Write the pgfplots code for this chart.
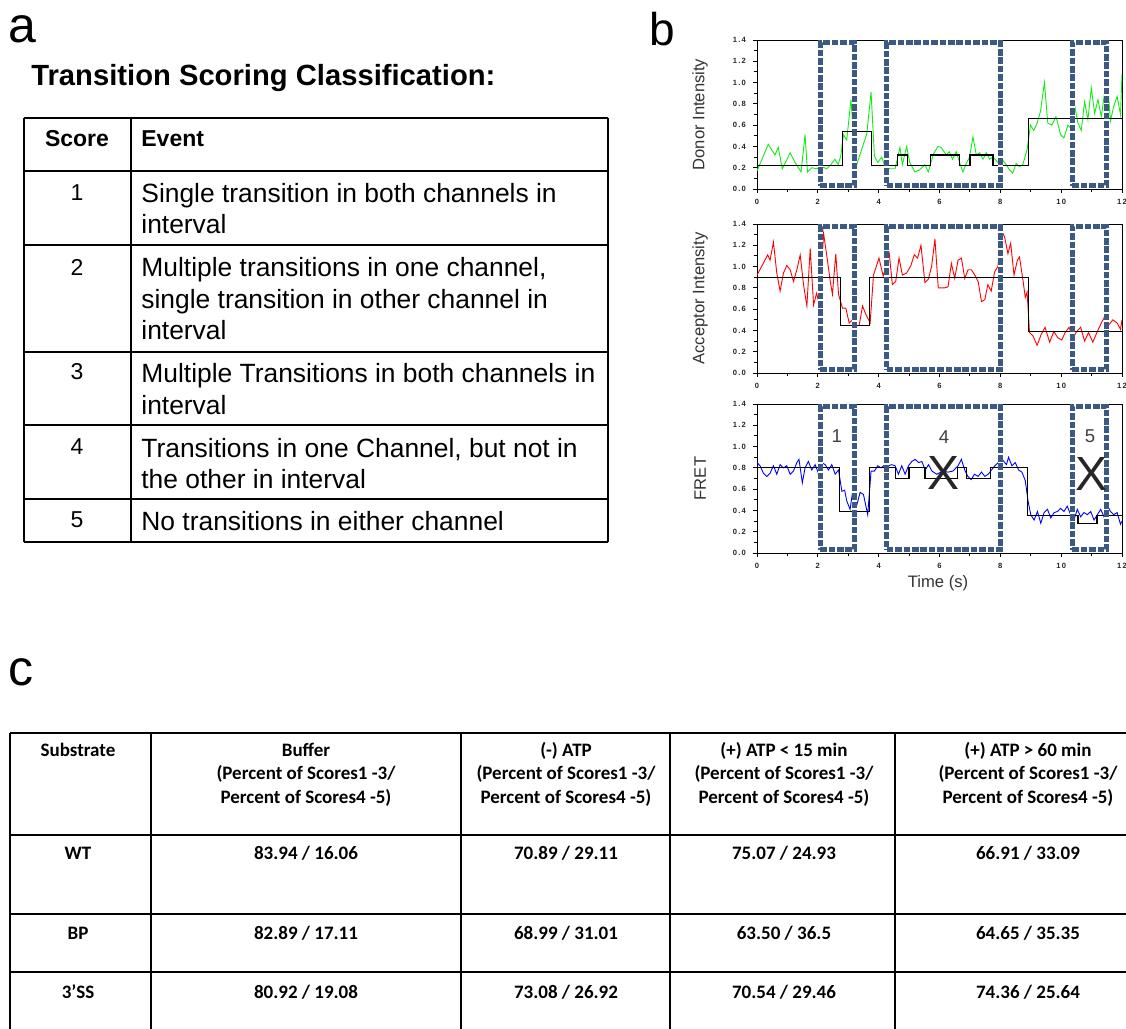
\documentclass[border=0pt]{standalone}
\usepackage{fontspec}
\setmainfont{Liberation Sans}
\newfontfamily\calfont{Carlito}
\usepackage{pgfplots}
\pgfplotsset{compat=1.18}
\definecolor{boxc}{RGB}{59,89,130}
\definecolor{tgreen}{RGB}{20,235,20}
\pgfplotsset{
  tr/.style={scale only axis, width=182.5pt, height=74.5pt, anchor=south west,
    xmin=0,xmax=12,ymin=0,ymax=1.4,
    xtick={0,2,4,6,8,10,12}, ytick={0,0.2,0.4,0.6,0.8,1.0,1.2,1.4},
    xticklabels={0,2,4,6,8,1\,0,1\,2},
    yticklabels={0\,.\,0,0\,.\,2,0\,.\,4,0\,.\,6,0\,.\,8,1\,.\,0,1\,.\,2,1\,.\,4},
    minor x tick num=1, minor y tick num=1,
    tick align=outside, xtick pos=bottom, ytick pos=left,
    major tick length=2pt, minor tick length=1.3pt,
    tick style={black, line width=0.5pt},
    axis line style={line width=0.5pt},
    ticklabel style={font=\fontsize{3.8}{4}\selectfont\bfseries, text=black!85},
    xticklabel style={yshift=0.5pt},
    label style={font=\fontsize{8.3}{9}\selectfont, text=black!80},
    ylabel style={at={(axis description cs:-0.156,0.5)}, anchor=center},
    xlabel style={at={(axis description cs:0.496,-0.203)}, anchor=center},
  },
  boxw/.style={white, line width=2.5pt, forget plot},
  boxd/.style={boxc, line width=2.5pt, dash pattern=on 3.3pt off 0.9pt, forget plot},
  tl/.style={line width=0.45pt},
  st/.style={black, line width=0.6pt, const plot},
}
\newcommand\boxes{%
  \addplot[boxw] coordinates {(2.08,0.03)(3.2,0.03)(3.2,1.375)(2.08,1.375)(2.08,0.03)};
  \addplot[boxd] coordinates {(2.08,0.03)(3.2,0.03)(3.2,1.375)(2.08,1.375)(2.08,0.03)};
  \addplot[boxw] coordinates {(4.27,0.03)(8.0,0.03)(8.0,1.375)(4.27,1.375)(4.27,0.03)};
  \addplot[boxd] coordinates {(4.27,0.03)(8.0,0.03)(8.0,1.375)(4.27,1.375)(4.27,0.03)};
  \addplot[boxw] coordinates {(10.37,0.03)(11.5,0.03)(11.5,1.375)(10.37,1.375)(10.37,0.03)};
  \addplot[boxd] coordinates {(10.37,0.03)(11.5,0.03)(11.5,1.375)(10.37,1.375)(10.37,0.03)};
}
\begin{document}
\begin{tikzpicture}
\path[use as bounding box] (0,0) rectangle (563pt,-514.5pt);
\begin{scope}[x=0.5pt,y=-0.5pt]
% ---------- panel a ----------
\node[anchor=base west, inner sep=0, font=\fontsize{25}{30}\selectfont] at (8,42) {a};
\node[anchor=base west, inner sep=0, font=\fontsize{14.6}{17}\selectfont\bfseries] at (31,85.5) {Transition Scoring Classification:};
\foreach \yy in {118,171,245,352,425,499,542} \draw[line width=1pt] (24,\yy) -- (608,\yy);
\foreach \xx in {24,131,608} \draw[line width=1pt] (\xx,118) -- (\xx,542);
\begin{scope}[every node/.style={anchor=base west, inner sep=0, font=\fontsize{13.2}{15}\selectfont}]
\node[font=\fontsize{11.5}{13}\selectfont\bfseries, anchor=base] at (77,146.8) {Score};
\node[font=\fontsize{11.5}{13}\selectfont\bfseries] at (141,146.8) {Event};
\node[font=\fontsize{11.5}{13}\selectfont, anchor=base] at (77,200.5) {1};
\node[font=\fontsize{11.5}{13}\selectfont, anchor=base] at (77,275.5) {2};
\node[font=\fontsize{11.5}{13}\selectfont, anchor=base] at (77,379.5) {3};
\node[font=\fontsize{11.5}{13}\selectfont, anchor=base] at (77,454.5) {4};
\node[font=\fontsize{11.5}{13}\selectfont, anchor=base] at (77,527.5) {5};
\node at (141,202.5) {Single transition in both channels in};
\node at (141,233.5) {interval};
\node at (141,276.5) {Multiple transitions in one channel,};
\node at (141,308.5) {single transition in other channel in};
\node at (141,339.5) {interval};
\node at (141,382.5) {Multiple Transitions in both channels in};
\node at (141,414.5) {interval};
\node at (141,457) {Transitions in one Channel, but not in};
\node at (141,488) {the other in interval};
\node at (141,530) {No transitions in either channel};
\end{scope}
% ---------- panel b label ----------
\node[anchor=base west, inner sep=0, font=\fontsize{23}{28}\selectfont] at (649,45) {b};
% ---------- panel c ----------
\node[anchor=base west, inner sep=0, font=\fontsize{25}{30}\selectfont] at (8,685) {c};
\foreach \yy in {733,835,914,972} \draw[line width=1.2pt] (10,\yy) -- (1126,\yy);
\foreach \xx in {10,151,461,670,895} \draw[line width=0.8pt] (\xx,733) -- (\xx,1029);
\begin{scope}[every node/.style={anchor=base, inner sep=0, font=\calfont\fontsize{9.5}{11}\selectfont\bfseries}]
\node at (78,756) {Substrate};
\node at (306,756) {Buffer};
\node at (306,779) {(Percent of Scores1 -3/};
\node at (306,803) {Percent of Scores4 -5)};
\node at (566,756) {(-) ATP};
\node at (566,779) {(Percent of Scores1 -3/};
\node at (566,803) {Percent of Scores4 -5)};
\node at (784,756) {(+) ATP < 15 min};
\node at (784,779) {(Percent of Scores1 -3/};
\node at (784,803) {Percent of Scores4 -5)};
\node at (1028,756) {(+) ATP > 60 min};
\node at (1028,779) {(Percent of Scores1 -3/};
\node at (1028,803) {Percent of Scores4 -5)};
\node at (78,859) {WT};
\node at (306,859) {83.94 / 16.06};
\node at (566,859) {70.89 / 29.11};
\node at (784,859) {75.07 / 24.93};
\node at (1028,859) {66.91 / 33.09};
\node at (78,939) {BP};
\node at (306,939) {82.89 / 17.11};
\node at (566,939) {68.99 / 31.01};
\node at (784,939) {63.50 / 36.5};
\node at (1028,939) {64.65 / 35.35};
\node at (78,998) {3’SS};
\node at (306,998) {80.92 / 19.08};
\node at (566,998) {73.08 / 26.92};
\node at (784,998) {70.54 / 29.46};
\node at (1028,998) {74.36 / 25.64};
\end{scope}
\end{scope}

% ---------- panel b : donor ----------
\begin{axis}[tr, at={(378.5pt,-94.5pt)}, ylabel={Donor Intensity}]
\addplot[tl, tgreen] coordinates {
(0.00,0.17)(0.37,0.42)(0.59,0.32)(0.70,0.39)(0.83,0.19)(0.92,0.24)(1.09,0.34)(1.25,0.25)
(1.45,0.16)(1.58,0.51)(1.66,0.16)(1.80,0.20)(1.96,0.19)(2.13,0.21)(2.29,0.19)(2.43,0.23)
(2.56,0.28)(2.67,0.23)(2.76,0.32)(2.84,0.51)(2.95,0.46)(3.09,0.84)(3.18,0.47)(3.28,0.23)
(3.44,0.37)(3.61,0.52)(3.75,0.91)(3.86,0.31)(3.97,0.25)(4.10,0.30)(4.21,0.21)(4.37,0.19)
(4.54,0.19)(4.70,0.39)(4.78,0.23)(4.92,0.40)(5.02,0.25)(5.19,0.16)(5.35,0.18)(5.52,0.23)
(5.63,0.16)(5.80,0.33)(5.95,0.40)(6.06,0.39)(6.22,0.32)(6.32,0.35)(6.43,0.28)(6.55,0.35)
(6.66,0.25)(6.77,0.16)(6.88,0.24)(6.99,0.30)(7.10,0.49)(7.21,0.32)(7.32,0.34)(7.43,0.28)
(7.54,0.34)(7.65,0.28)(7.76,0.30)(7.92,0.25)(8.08,0.27)(8.19,0.23)(8.30,0.18)(8.41,0.15)
(8.52,0.24)(8.63,0.21)(8.74,0.23)(8.88,0.37)(8.99,0.60)(9.10,0.55)(9.21,0.62)(9.32,0.73)
(9.45,1.00)(9.56,0.62)(9.69,0.60)(9.83,0.68)(9.98,0.51)(10.09,0.48)(10.22,0.60)(10.33,0.57)
(10.44,0.79)(10.55,0.62)(10.66,0.55)(10.77,0.82)(10.88,0.65)(10.99,0.95)(11.10,0.71)(11.21,0.84)
(11.32,0.68)(11.43,0.91)(11.51,1.06)(11.62,0.64)(11.73,0.78)(11.84,0.87)(11.95,0.70)(12.00,1.08)};
\addplot[st] coordinates {(0,0.22)(2.80,0.54)(3.76,0.22)(4.61,0.32)(4.94,0.22)(5.71,0.32)(6.67,0.22)(7.0,0.32)(7.76,0.22)(8.93,0.66)(12,0.66)};
\boxes
\end{axis}

% ---------- panel b : acceptor ----------
\begin{axis}[tr, at={(378.5pt,-186.5pt)}, ylabel={Acceptor Intensity}]
\addplot[tl, red] coordinates {
(0.00,0.92)(0.15,1.00)(0.35,1.11)(0.43,1.06)(0.54,1.23)(0.65,0.94)(0.76,0.77)(0.87,0.94)
(0.98,1.01)(1.09,0.97)(1.20,0.86)(1.31,0.97)(1.42,1.11)(1.53,0.83)(1.64,0.63)(1.75,1.17)
(1.86,0.64)(1.96,0.75)(2.05,0.64)(2.19,1.31)(2.30,1.09)(2.41,0.86)(2.48,0.74)(2.59,1.12)
(2.68,0.74)(2.81,0.61)(2.92,0.61)(3.03,0.47)(3.14,0.50)(3.25,0.44)(3.36,0.45)(3.47,0.63)
(3.58,0.55)(3.72,0.47)(3.83,0.92)(4.01,1.08)(4.15,0.91)(4.26,1.03)(4.35,1.12)(4.45,0.83)
(4.56,0.86)(4.67,1.08)(4.78,0.92)(4.92,0.94)(5.06,1.01)(5.17,1.11)(5.28,1.08)(5.39,1.20)
(5.52,0.85)(5.63,0.88)(5.74,1.00)(5.85,1.26)(5.96,0.80)(6.06,0.80)(6.17,0.80)(6.28,0.81)
(6.39,1.03)(6.50,0.89)(6.61,1.06)(6.72,1.08)(6.83,0.89)(6.94,0.97)(7.05,0.97)(7.16,0.92)
(7.27,0.86)(7.38,0.67)(7.49,0.69)(7.59,0.83)(7.70,0.77)(7.81,0.95)(7.92,1.00)(8.03,1.34)
(8.14,1.28)(8.25,1.12)(8.34,1.22)(8.45,0.92)(8.56,1.06)(8.63,1.09)(8.74,0.88)(8.82,0.71)
(8.88,0.76)(8.96,0.38)(9.07,0.35)(9.21,0.26)(9.34,0.36)(9.47,0.43)(9.62,0.29)(9.76,0.39)
(9.89,0.33)(10.02,0.31)(10.13,0.38)(10.26,0.43)(10.39,0.33)(10.51,0.39)(10.64,0.43)(10.77,0.30)
(10.90,0.38)(11.04,0.29)(11.19,0.39)(11.32,0.47)(11.43,0.53)(11.56,0.45)(11.70,0.50)(11.84,0.47)
(11.95,0.41)(12.00,0.50)};
\addplot[st] coordinates {(0,0.90)(2.75,0.45)(3.71,0.90)(8.92,0.39)(12,0.39)};
\boxes
\end{axis}

% ---------- panel b : FRET ----------
\begin{axis}[tr, at={(378.5pt,-276.5pt)}, ylabel={FRET}, xlabel={Time (s)}]
\addplot[tl, blue] coordinates {
(0.00,0.85)(0.10,0.82)(0.21,0.75)(0.32,0.72)(0.43,0.75)(0.54,0.82)(0.65,0.74)(0.76,0.83)
(0.87,0.80)(0.98,0.82)(1.09,0.74)(1.20,0.77)(1.31,0.85)(1.38,0.88)(1.49,0.66)(1.58,0.80)
(1.69,0.86)(1.80,0.78)(1.91,0.83)(2.02,0.75)(2.13,0.85)(2.24,0.83)(2.35,0.78)(2.46,0.83)
(2.57,0.74)(2.68,0.78)(2.79,0.58)(2.88,0.59)(2.95,0.49)(3.06,0.41)(3.17,0.63)(3.28,0.45)
(3.39,0.57)(3.50,0.55)(3.64,0.36)(3.75,0.77)(3.86,0.77)(3.97,0.82)(4.08,0.80)(4.21,0.83)
(4.32,0.82)(4.43,0.83)(4.54,0.82)(4.65,0.74)(4.76,0.82)(4.87,0.74)(4.98,0.82)(5.09,0.86)
(5.20,0.88)(5.31,0.85)(5.42,0.86)(5.53,0.78)(5.64,0.83)(5.75,0.77)(5.91,0.74)(6.11,0.77)
(6.28,0.76)(6.44,0.77)(6.61,0.82)(6.72,0.88)(6.83,0.78)(6.93,0.72)(7.04,0.69)(7.15,0.74)
(7.27,0.72)(7.38,0.76)(7.49,0.72)(7.60,0.74)(7.71,0.78)(7.82,0.82)(7.93,0.85)(8.06,0.88)
(8.20,0.83)(8.27,0.90)(8.38,0.82)(8.49,0.85)(8.60,0.78)(8.71,0.76)(8.82,0.68)(8.91,0.49)
(9.00,0.36)(9.11,0.31)(9.22,0.39)(9.33,0.28)(9.44,0.38)(9.55,0.41)(9.66,0.33)(9.77,0.38)
(9.88,0.39)(9.98,0.42)(10.09,0.39)(10.20,0.44)(10.31,0.36)(10.42,0.31)(10.53,0.41)(10.64,0.34)
(10.75,0.38)(10.86,0.36)(10.97,0.39)(11.08,0.31)(11.19,0.36)(11.30,0.41)(11.41,0.34)(11.51,0.45)
(11.62,0.39)(11.73,0.36)(11.84,0.38)(11.95,0.27)(12.00,0.30)};
\addplot[st] coordinates {(0,0.80)(2.71,0.39)(3.69,0.80)(4.55,0.70)(5.0,0.80)(5.52,0.70)(6.6,0.80)(6.9,0.70)(7.68,0.80)(8.88,0.355)(10.55,0.28)(11.18,0.355)(12,0.355)};
\boxes
\node[font=\fontsize{9.3}{10}\selectfont, text=black!75] at (axis cs:2.62,1.10) {1};
\node[font=\fontsize{9.3}{10}\selectfont, text=black!75] at (axis cs:6.15,1.09) {4};
\node[font=\fontsize{9.3}{10}\selectfont, text=black!75] at (axis cs:10.95,1.10) {5};
\node[font=\fontsize{24}{26}\selectfont, text=black!85] at (axis cs:6.12,0.75) {X};
\node[font=\fontsize{24}{26}\selectfont, text=black!85] at (axis cs:11.0,0.74) {X};
\end{axis}
\end{tikzpicture}
\end{document}
